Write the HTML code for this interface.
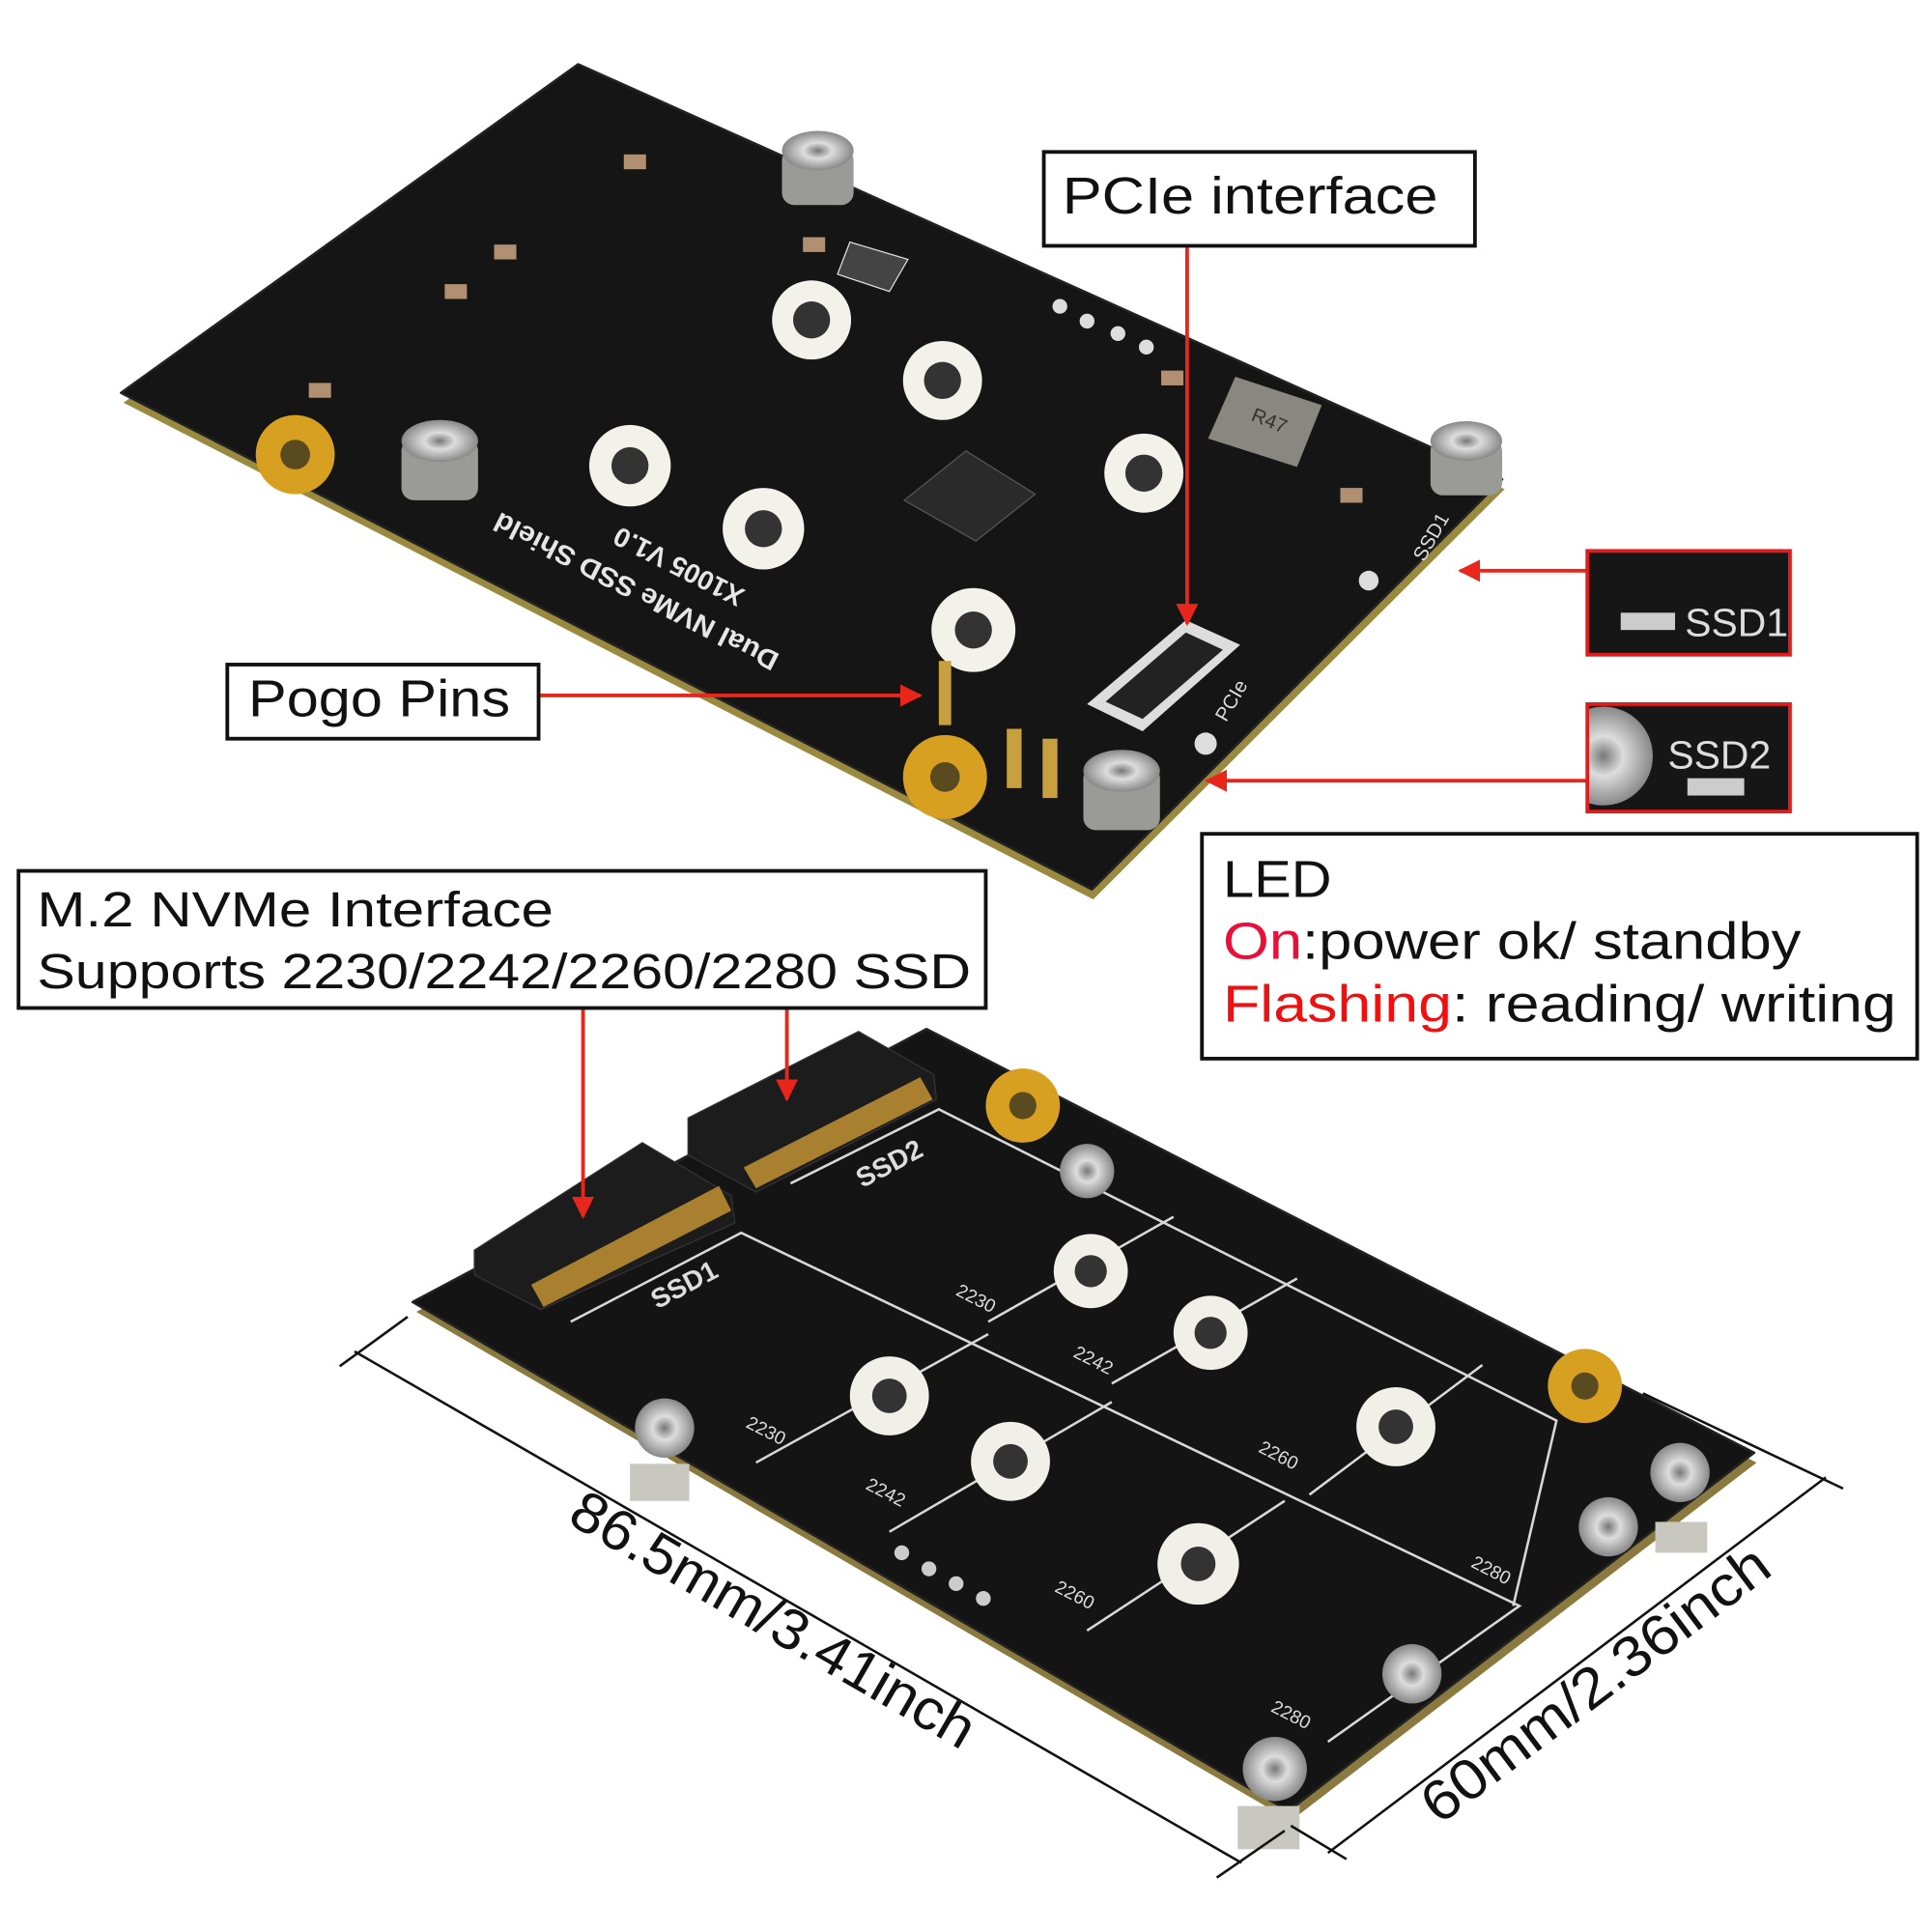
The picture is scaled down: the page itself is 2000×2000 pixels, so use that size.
<!DOCTYPE html>
<html><head><meta charset="utf-8"><style>
html,body{margin:0;padding:0;background:#fff}
svg{display:block}
text{font-family:"Liberation Sans","DejaVu Sans",sans-serif}
</style></head><body>
<svg width="2000" height="2000" viewBox="0 0 1564 1564" xmlns="http://www.w3.org/2000/svg">
<defs>
<marker id="ar" viewBox="0 0 10 10" refX="9" refY="5" markerWidth="6" markerHeight="6" orient="auto"><path d="M0,0L10,5L0,10z" fill="#e8261c"/></marker>
<radialGradient id="nut"><stop offset="0" stop-color="#777"/><stop offset="0.4" stop-color="#ddd"/><stop offset="1" stop-color="#888"/></radialGradient>
<clipPath id="c2"><rect x="1285" y="570" width="164" height="87"/></clipPath>
</defs>
<rect width="1564" height="1564" fill="#fff"/>

<!-- TOP BOARD -->
<polygon points="470,58 100,326 885,728 1218,396" fill="#9a8a40"/>
<polygon points="468,52 98,318 884,720 1216,388" fill="#151515" stroke="#222" stroke-width="2" stroke-linejoin="round"/>
<g fill="#f2f2ea"><circle cx="657" cy="259" r="32"/><circle cx="763" cy="308" r="32"/><circle cx="510" cy="377" r="33"/><circle cx="618" cy="428" r="33"/><circle cx="926" cy="383" r="32"/><circle cx="788" cy="510" r="34"/></g>
<g fill="#333"><circle cx="657" cy="259" r="15"/><circle cx="763" cy="308" r="15"/><circle cx="510" cy="377" r="15"/><circle cx="618" cy="428" r="15"/><circle cx="926" cy="383" r="15"/><circle cx="788" cy="510" r="15"/></g>
<g fill="#d8a020"><circle cx="239" cy="368" r="32"/><circle cx="765" cy="629" r="34"/></g>
<g fill="#5a4a20"><circle cx="239" cy="368" r="12"/><circle cx="765" cy="629" r="12"/></g>
<g><rect x="325" y="355" width="62" height="50" rx="10" fill="#9a9a96"/><ellipse cx="356" cy="357" rx="31" ry="17" fill="url(#nut)"/>
<rect x="633" y="120" width="58" height="46" rx="10" fill="#9a9a96"/><ellipse cx="662" cy="122" rx="29" ry="16" fill="url(#nut)"/>
<rect x="1158" y="355" width="58" height="46" rx="10" fill="#9a9a96"/><ellipse cx="1187" cy="357" rx="29" ry="16" fill="url(#nut)"/>
<rect x="877" y="620" width="62" height="52" rx="10" fill="#9a9a96"/><ellipse cx="908" cy="624" rx="31" ry="17" fill="url(#nut)"/></g>
<polygon points="782,365 838,400 790,438 732,405" fill="#2a2a2a" stroke="#555"/>
<polygon points="1000,305 1070,328 1050,378 978,355" fill="#8a8680"/>
<text x="1012" y="340" font-size="16" fill="#333" transform="rotate(22 1012 340)">R47</text>
<polygon points="688,196 735,210 720,236 678,222" fill="#444" stroke="#ddd"/>
<polygon points="880,570 960,502 1004,522 925,592" fill="#ddd"/>
<polygon points="895,568 960,512 990,526 925,582" fill="#222"/>
<rect x="760" y="535" width="10" height="52" fill="#c8a040"/><rect x="815" y="590" width="12" height="48" fill="#c8a040"/><rect x="844" y="598" width="12" height="48" fill="#c8a040"/>
<g fill="#b09070"><rect x="505" y="125" width="18" height="12"/><rect x="400" y="198" width="18" height="12"/><rect x="360" y="230" width="18" height="12"/><rect x="250" y="310" width="18" height="12"/><rect x="650" y="192" width="18" height="12"/><rect x="940" y="300" width="18" height="12"/><rect x="1085" y="395" width="18" height="12"/></g>
<g fill="#ddd"><circle cx="858" cy="248" r="6"/><circle cx="880" cy="260" r="6"/><circle cx="905" cy="270" r="6"/><circle cx="928" cy="281" r="6"/><circle cx="1108" cy="470" r="8"/><circle cx="976" cy="602" r="9"/></g>
<g fill="#e6e6e6" font-size="22" font-weight="bold">
<text transform="translate(632,530) rotate(207)" textLength="255" lengthAdjust="spacingAndGlyphs">Dual NVMe SSD Shield</text>
<text transform="translate(604,478) rotate(207)">X1005 V1.0</text>
</g>
<text x="1138" y="450" font-size="16" fill="#ddd" transform="rotate(-60 1150 440)">SSD1</text>
<text x="985" y="578" font-size="16" fill="#ddd" transform="rotate(-60 995 575)">PCIe</text>

<!-- BOTTOM BOARD -->
<polygon points="752,840 337,1062 1045,1474 1422,1184" fill="#8a7a40"/>
<polygon points="750,833 334,1054 1043,1466 1420,1176" fill="#141414" stroke="#222" stroke-width="2" stroke-linejoin="round"/>
<g stroke="#d8d8d8" stroke-width="2" fill="none">
<polyline points="462,1070 600,998 1230,1300 1075,1410"/>
<polyline points="640,958 760,898 1260,1150 1225,1300"/>
<line x1="612" y1="1184" x2="800" y2="1080"/><line x1="720" y1="1240" x2="900" y2="1135"/><line x1="880" y1="1320" x2="1040" y2="1215"/>
<line x1="800" y1="1070" x2="950" y2="985"/><line x1="900" y1="1120" x2="1050" y2="1035"/><line x1="1060" y1="1210" x2="1200" y2="1105"/>
</g>
<g fill="#f0f0e8"><circle cx="720" cy="1130" r="32"/><circle cx="818" cy="1183" r="32"/><circle cx="970" cy="1266" r="33"/><circle cx="883" cy="1029" r="30"/><circle cx="980" cy="1079" r="30"/><circle cx="1130" cy="1155" r="32"/></g>
<g fill="#333"><circle cx="720" cy="1130" r="14"/><circle cx="818" cy="1183" r="14"/><circle cx="970" cy="1266" r="14"/><circle cx="883" cy="1029" r="13"/><circle cx="980" cy="1079" r="13"/><circle cx="1130" cy="1155" r="14"/></g>
<g fill="#d8a020"><circle cx="828" cy="895" r="30"/><circle cx="1283" cy="1122" r="30"/></g>
<g fill="#5a4a20"><circle cx="828" cy="895" r="11"/><circle cx="1283" cy="1122" r="11"/></g>
<g fill="url(#nut)"><circle cx="538" cy="1156" r="24"/><circle cx="880" cy="948" r="22"/><circle cx="1360" cy="1192" r="24"/><circle cx="1302" cy="1236" r="24"/><circle cx="1143" cy="1355" r="24"/><circle cx="1032" cy="1432" r="26"/></g>
<g fill="#c8c8c0"><rect x="510" y="1185" width="48" height="30"/><rect x="1002" y="1462" width="50" height="35"/><rect x="1340" y="1232" width="42" height="25"/></g>
<g fill="#ccc"><circle cx="730" cy="1257" r="6"/><circle cx="752" cy="1270" r="6"/><circle cx="774" cy="1282" r="6"/><circle cx="796" cy="1294" r="6"/></g>
<polygon points="384,1012 520,925 592,968 595,990 438,1060 384,1032" fill="#1c1c1c" stroke="#333"/>
<polygon points="430,1040 582,960 592,980 440,1058" fill="#a88030"/>
<polygon points="557,905 695,835 756,870 758,890 612,965 557,935" fill="#1c1c1c" stroke="#333"/>
<polygon points="602,945 745,872 755,890 612,962" fill="#a88030"/>
<g fill="#ddd" font-size="22" font-weight="bold">
<text transform="translate(532,1060) rotate(-28)">SSD1</text>
<text transform="translate(698,962) rotate(-28)">SSD2</text></g>
<g fill="#ddd" font-size="15">
<text transform="translate(603,1155) rotate(27)">2230</text><text transform="translate(700,1205) rotate(27)">2242</text><text transform="translate(853,1288) rotate(27)">2260</text><text transform="translate(1028,1385) rotate(27)">2280</text>
<text transform="translate(773,1048) rotate(27)">2230</text><text transform="translate(868,1098) rotate(27)">2242</text><text transform="translate(1018,1175) rotate(27)">2260</text><text transform="translate(1190,1268) rotate(27)">2280</text></g>

<g stroke="#111" stroke-width="2">
<line x1="287" y1="1094" x2="1005" y2="1508"/>
<line x1="275" y1="1106" x2="330" y2="1066"/><line x1="985" y1="1520" x2="1040" y2="1482"/>
<line x1="1075" y1="1500" x2="1478" y2="1196"/>
<line x1="1330" y1="1128" x2="1492" y2="1205"/><line x1="1045" y1="1478" x2="1090" y2="1505"/>
</g>
<text font-size="46" fill="#111" transform="translate(458,1232) rotate(30)" textLength="370" lengthAdjust="spacingAndGlyphs">86.5mm/3.41inch</text>
<text font-size="46" fill="#111" transform="translate(1165,1478) rotate(-37)" textLength="340" lengthAdjust="spacingAndGlyphs">60mm/2.36inch</text>

<g stroke="#e8261c" stroke-width="3" fill="none" marker-end="url(#ar)">
<line x1="961" y1="200" x2="961" y2="505"/>
<line x1="437" y1="563" x2="745" y2="563"/>
<line x1="1284" y1="462" x2="1182" y2="462"/>
<line x1="1284" y1="632" x2="977" y2="632"/>
<line x1="472" y1="817" x2="472" y2="985"/>
<line x1="637" y1="817" x2="637" y2="890"/>
</g>

<g fill="#fff" stroke="#111" stroke-width="3">
<rect x="845" y="123" width="349" height="76"/>
<rect x="184" y="538" width="252" height="60"/>
<rect x="15" y="705" width="783" height="111"/>
<rect x="973" y="675" width="579" height="182"/>
</g>
<text x="860" y="173" font-size="42" fill="#111" textLength="304" lengthAdjust="spacingAndGlyphs">PCIe interface</text>
<text x="201" y="580" font-size="42" fill="#111" textLength="212" lengthAdjust="spacingAndGlyphs">Pogo Pins</text>
<text x="30" y="750" font-size="40" fill="#111" textLength="418" lengthAdjust="spacingAndGlyphs">M.2 NVMe Interface</text>
<text x="30" y="800" font-size="40" fill="#111" textLength="756" lengthAdjust="spacingAndGlyphs">Supports 2230/2242/2260/2280 SSD</text>
<text x="990" y="726" font-size="42" fill="#111" textLength="88" lengthAdjust="spacingAndGlyphs">LED</text>
<text x="990" y="776" font-size="42" fill="#111" textLength="468" lengthAdjust="spacingAndGlyphs"><tspan fill="#e8103a">On</tspan>:power ok/ standby</text>
<text x="990" y="827" font-size="42" fill="#111" textLength="545" lengthAdjust="spacingAndGlyphs"><tspan fill="#f01010">Flashing</tspan>: reading/ writing</text>

<rect x="1285" y="446" width="164" height="84" fill="#161616" stroke="#e01c1c" stroke-width="3"/>
<rect x="1312" y="496" width="44" height="14" fill="#ccc"/>
<text x="1364" y="515" font-size="32" fill="#ddd">SSD1</text>
<rect x="1285" y="570" width="164" height="87" fill="#161616"/>
<circle cx="1298" cy="612" r="40" fill="url(#nut)" clip-path="url(#c2)"/>
<rect x="1285" y="570" width="164" height="87" fill="none" stroke="#e01c1c" stroke-width="3"/>
<text x="1350" y="622" font-size="32" fill="#ddd">SSD2</text>
<rect x="1366" y="630" width="46" height="14" fill="#ccc"/>
</svg>
</body></html>
